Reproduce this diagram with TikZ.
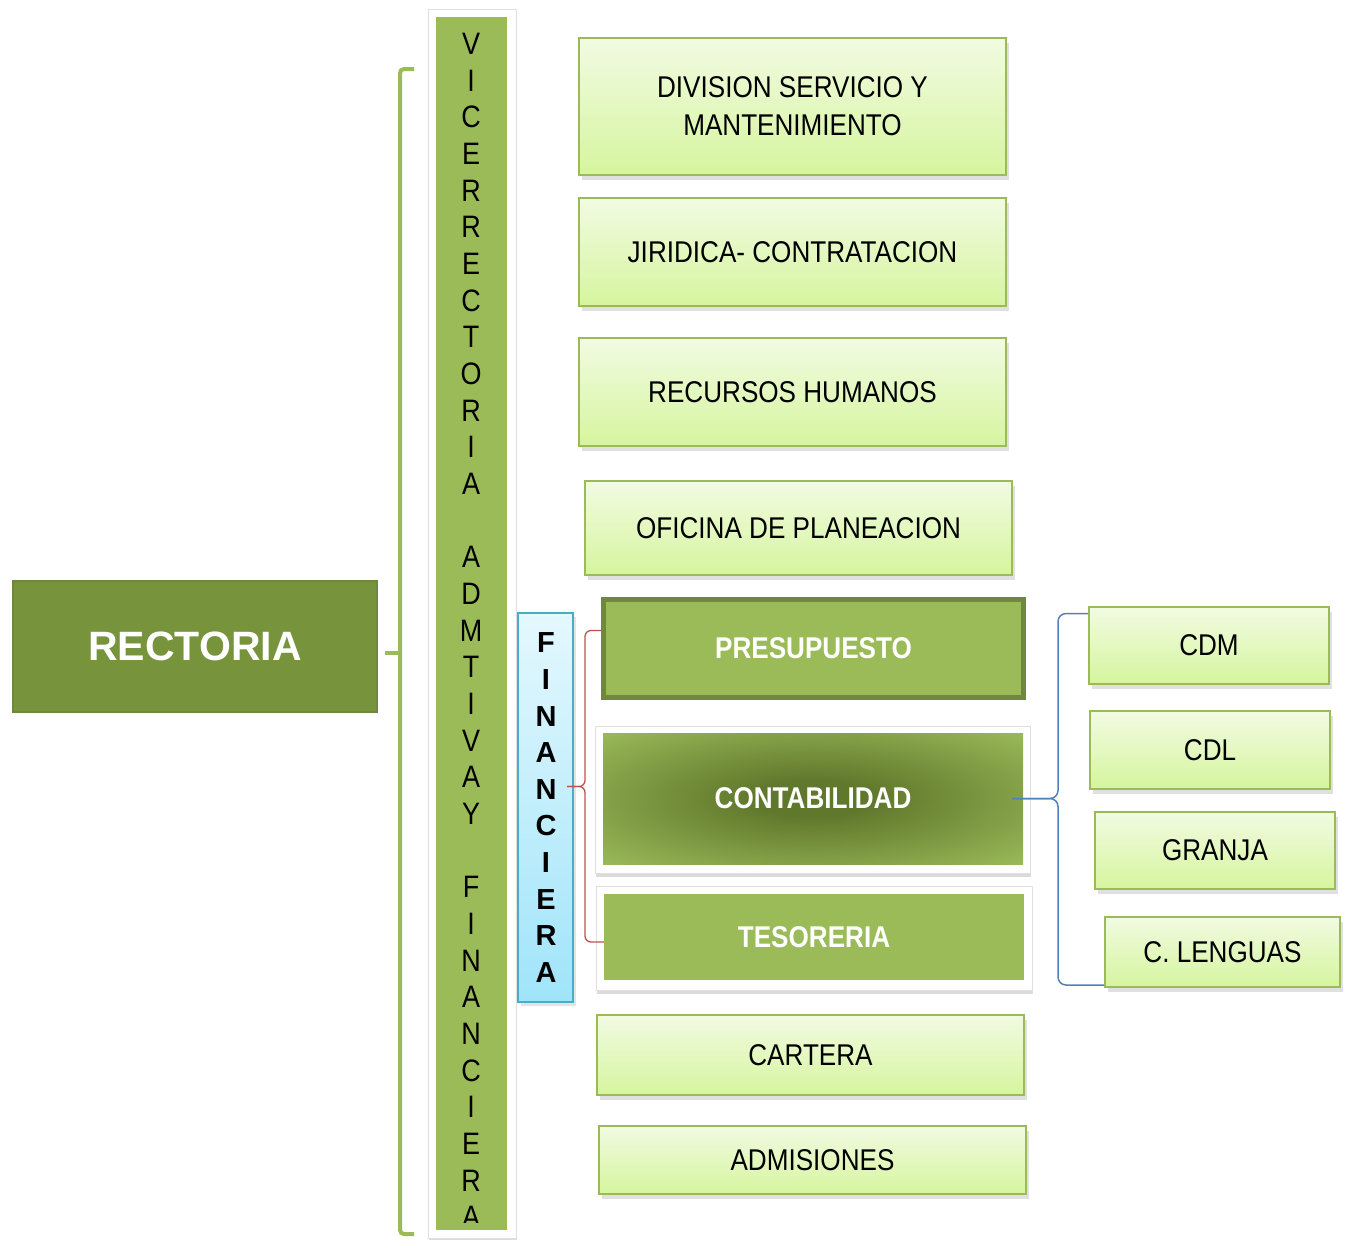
\documentclass[tikz,border=0pt]{standalone}
\usepackage{fontspec}
\setmainfont{Liberation Sans}
\newfontfamily\angosta{Liberation Sans}[FakeStretch=0.87]
\usetikzlibrary{shadows}
\definecolor{verde}{RGB}{155,187,89}
\definecolor{verdeosc}{RGB}{119,147,60}
\definecolor{verdeborde}{RGB}{111,136,60}
\definecolor{verdecentro}{RGB}{96,120,44}
\definecolor{verdeclaro}{RGB}{241,251,226}
\definecolor{verdeclaroB}{RGB}{214,245,158}
\definecolor{celesteA}{RGB}{228,248,254}
\definecolor{celesteB}{RGB}{160,228,250}
\definecolor{celesteborde}{RGB}{75,172,198}
\definecolor{rojo}{RGB}{192,80,77}
\definecolor{azul}{RGB}{79,129,189}
\pgfdeclareradialshading{contab}{\pgfpoint{0bp}{0bp}}{color(0bp)=(verdecentro); color(7bp)=(verdecentro); color(36bp)=(verde); color(50bp)=(verde)}

\begin{document}
\begin{tikzpicture}[x=1pt, y=-1pt,
  tam/.style 2 args={minimum width=#1pt, minimum height=#2pt},
  caja/.style={draw=verde, line width=2pt, top color=verdeclaro, bottom color=verdeclaroB,
    inner sep=0pt, align=center, font=\angosta\fontsize{30}{38}\selectfont,
    drop shadow={shadow xshift=3pt, shadow yshift=-5pt, fill=black!24}},
  cajaosc/.style={fill=verde, text=white, inner sep=0pt,
    font=\angosta\bfseries\fontsize{30}{38}\selectfont},
  marco/.style={fill=white, draw=black!12, line width=1pt,
    drop shadow={shadow xshift=1pt, shadow yshift=-4pt, fill=black!28}},
  letra/.style={inner sep=0pt, font=\angosta\fontsize{31}{31}\selectfont},
  letrafin/.style={inner sep=0pt, font=\bfseries\fontsize{29}{29}\selectfont},
  llave/.style={draw=verde, line width=4pt, rounded corners=4pt},
  llaveroja/.style={draw=rojo, line width=1.3pt, rounded corners=6pt},
  llaveazul/.style={draw=azul, line width=1.5pt, rounded corners=8pt}]
  \useasboundingbox (0,0) rectangle (1348,1239);

  % rectoria
  \node[fill=verdeosc, draw=verdeborde, line width=2pt, tam={364}{131}, text=white,
    font=\bfseries\fontsize{41}{41}\selectfont] (rectoria) at (195,646.5) {RECTORIA};

  % barra vertical
  \draw[marco] (428,10) rectangle (516,1238);
  \node[fill=verde, tam={71}{1213}, inner sep=0pt] (vice) at (471.5,623.5) {};
  \begin{scope}
    \clip (436,17) rectangle (507,1222);
    \foreach \l [count=\i from 0] in {V,I,C,E,R,R,E,C,T,O,R,I,A,{},A,D,M,T,I,V,A,Y,{},F,I,N,A,N,C,I,E,R,A}
      \node[letra] (vl\i) at (471,44+36.66*\i) {\l};
  \end{scope}

  % financiera
  \node[top color=celesteA, bottom color=celesteB, draw=celesteborde, line width=2pt, tam={55}{389},
    drop shadow={shadow xshift=3pt, shadow yshift=-4pt, fill=black!22}] (fin) at (545.5,807.5) {};
  \foreach \l [count=\i from 0] in {F,I,N,A,N,C,I,E,R,A}
    \node[letrafin] (fl\i) at (546,643+36.6*\i) {\l};

  % dependencias
  \node[caja, tam={427}{137}] (div) at (792.5,106.5) {DIVISION SERVICIO Y\\MANTENIMIENTO};
  \node[caja, tam={427}{108}] (jur) at (792.5,252) {JIRIDICA- CONTRATACION};
  \node[caja, tam={427}{108}] (rrhh) at (792.5,392) {RECURSOS HUMANOS};
  \node[caja, tam={427}{94}] (ofi) at (798.5,528) {OFICINA DE PLANEACION};
  \node[cajaosc, draw=verdeborde, line width=5pt, tam={420}{98}] (pres) at (813.5,648.5) {PRESUPUESTO};
  \draw[marco] (595,726) rectangle (1030,873);
  \node[cajaosc, shade, shading=contab, tam={420}{131}] (cont) at (813,798.5) {CONTABILIDAD};
  \draw[marco] (596,886) rectangle (1032,990);
  \node[cajaosc, tam={420}{86}] (teso) at (814,937) {TESORERIA};
  \node[caja, tam={427}{80}] (cart) at (810.5,1055) {CARTERA};
  \node[caja, tam={427}{68}] (adm) at (812.5,1160) {ADMISIONES};

  % centros
  \node[caja, tam={240}{77}] (cdm) at (1209,645.5) {CDM};
  \node[caja, tam={240}{78}] (cdl) at (1210,750) {CDL};
  \node[caja, tam={240}{77}] (granja) at (1215,850.5) {GRANJA};
  \node[caja, tam={235}{70}] (leng) at (1222.5,952) {C. LENGUAS};

  % llaves
  \coordinate (g1) at (414,69);
  \coordinate (g2) at (414,1234);
  \draw[llave] (g1) -- (400,69) -- (400,1234) -- (g2);
  \draw[llave, rounded corners=0pt] ([xshift=7pt,yshift=-6pt]rectoria.east) -- (400,652.5);
  \draw[llaveroja] ([xshift=-7pt,yshift=21pt]fin.east) -- (585,786.5) -- (585,630.5) -- ([yshift=18pt]pres.west);
  \draw[llaveroja] ([xshift=-7pt,yshift=21pt]fin.east) -- (585,786.5) -- (585,942) -- ([yshift=-5pt]teso.west);
  \draw[llaveazul] ([xshift=-11pt]cont.east) -- (1058,798.5) -- (1058,613.5) -- ([yshift=32pt]cdm.west);
  \draw[llaveazul] ([xshift=-11pt]cont.east) -- (1058,798.5) -- (1058,985) -- ([yshift=-33pt]leng.west);
\end{tikzpicture}
\end{document}
